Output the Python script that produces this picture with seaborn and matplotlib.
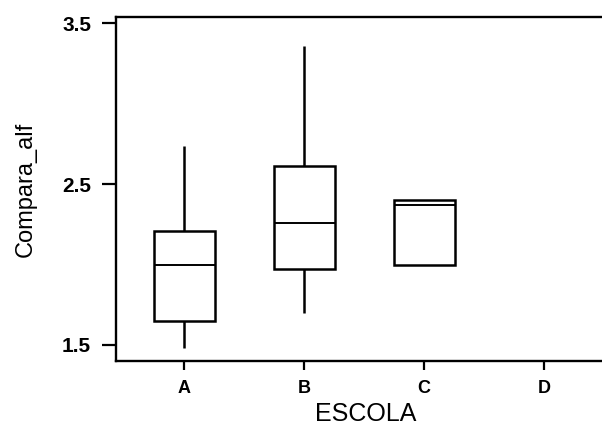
import matplotlib
matplotlib.use("Agg")
import matplotlib.pyplot as plt
import seaborn as sns
import pandas as pd

# Box statistics (low whisker, Q1, median, Q3, high whisker)
schools = ["A", "B", "C"]
order = ["A", "B", "C", "D"]
whisker_low = [1.48, 1.70, 2.00]
q1 = [1.65, 1.97, 2.00]
median = [2.00, 2.26, 2.37]
q3 = [2.21, 2.61, 2.40]
whisker_high = [2.74, 3.36, 2.40]

rows = []
for i, s in enumerate(schools):
    for v in (whisker_low[i], q1[i], median[i], q3[i], whisker_high[i]):
        rows.append({"ESCOLA": s, "Compara_alf": v})
df = pd.DataFrame(rows)

sns.set_theme(style="white")
plt.rcParams["font.family"] = ["Liberation Sans", "DejaVu Sans"]
plt.rcParams["text.color"] = "black"
plt.rcParams["axes.labelcolor"] = "black"
plt.rcParams["xtick.color"] = "black"
plt.rcParams["ytick.color"] = "black"

fig = plt.figure(figsize=(6.02, 4.34), dpi=100)
ax = fig.add_axes([116 / 602, 73 / 434, (616 - 116) / 602, (361 - 17) / 434])

sns.boxplot(data=df, x="ESCOLA", y="Compara_alf", order=order, ax=ax,
            whis=(0, 100), width=0.51, fill=True, color="white",
            linecolor="black", linewidth=1.8, showcaps=False,
            showfliers=False,
            medianprops={"linewidth": 1.4})

ax.set_xlim(-0.57, 3.6)
ax.set_ylim(1.40, 3.54)
ax.set_yticks([1.5, 2.5, 3.5])
ax.set_yticklabels(["1.5", "2.5", "3.5"], fontweight="bold", fontsize=15)
ax.set_xticks(range(4))
ax.set_xticklabels(order, fontweight="bold", fontsize=13)
ax.tick_params(axis="y", length=10, width=1.6, colors="black", pad=8, left=True)
ax.tick_params(axis="x", length=6.5, width=1.6, colors="black", pad=7, bottom=True)

for side in ["top", "left", "bottom", "right"]:
    ax.spines[side].set_visible(True)
    ax.spines[side].set_color("black")
    ax.spines[side].set_linewidth(1.7)

ax.set_xlabel("ESCOLA", fontsize=18, labelpad=4, color="black")
ax.set_ylabel("Compara_alf", fontsize=17, labelpad=18, color="black")

fig.savefig("out.png", dpi=100)
